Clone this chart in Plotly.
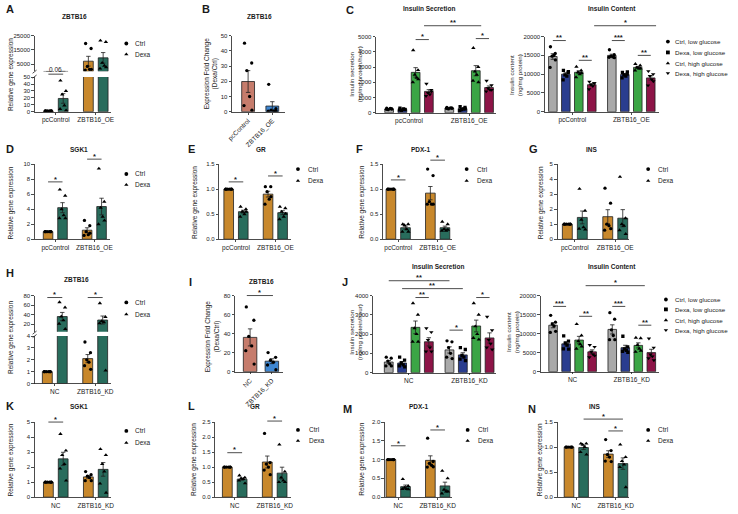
import numpy as np
import plotly.graph_objects as go

W, H = 738, 514
FONT = "Liberation Sans, Arial, Helvetica, sans-serif"
TXT = "#1a1a1a"
EDGE = "#1f1f1f"

C_CTRL = "#C8882C"
C_DEXA = "#286C5C"
C_GREY = "#A9A9A9"
C_NAVY = "#2A3D8F"
C_GREEN = "#3BA545"
C_MAROON = "#8D1447"
C_FC_A = "#C67C6C"
C_FC_B = "#3F87D2"

# ---------------- DATA ----------------
oe_groups = ["pcControl", "ZBTB16_OE"]
kd_groups = ["NC", "ZBTB16_KD"]
treat_labels = ["Ctrl", "Dexa"]
cond_labels = ["Ctrl, low glucose", "Dexa, low glucose", "Ctrl, high glucose", "Dexa, high glucose"]

# A: ZBTB16 (overexpression)
A_ctrl = [[1, 1, 1, 1, 1, 1], [19500, 16000, 3500, 1500, 1000, 1500]]
A_dexa = [[45, 30, 25, 9, 4, 2], [21500, 20500, 6000, 4000, 2000, 3000]]
# B: fold change
B_fold = [[45, 32, 27, 10, 4, 1], [18, 2, 1, 0.5, 0.3, 0.5]]
# C: insulin secretion
C_sec_ctrl_low = [[300, 250, 200, 280, 220, 250], [350, 300, 250, 320, 280, 300]]
C_sec_dexa_low = [[300, 220, 150, 250, 180, 200], [400, 350, 200, 250, 150, 250]]
C_sec_ctrl_high = [[4100, 2800, 2500, 2300, 2000, 2200], [4250, 3000, 2700, 2500, 2100, 2000]]
C_sec_dexa_high = [[1900, 1500, 1300, 1200, 1100, 1400], [2100, 1800, 1600, 1500, 1400, 1500]]
# C: insulin content
C_con_ctrl_low = [[17300, 15500, 14800, 15000, 11800, 13800], [16500, 15200, 14800, 14600, 14500, 14400]]
C_con_dexa_low = [[11000, 10500, 9800, 9500, 8500, 10700], [10500, 10000, 9800, 9500, 9000, 10600]]
C_con_ctrl_high = [[12000, 11000, 10500, 10000, 9200, 10300], [12700, 12300, 11800, 11500, 11000, 11500]]
C_con_dexa_high = [[8000, 7600, 7200, 6800, 6000, 7600], [10800, 10000, 9500, 8600, 7000, 8100]]
# D-G
D_ctrl = [[1, 1, 1, 1, 1, 1], [2.5, 1.8, 1.0, 0.6, 0.5, 0.8]]
D_dexa = [[6.6, 5.8, 4.0, 3.2, 2.8, 2.8], [9.4, 5.0, 4.2, 3.0, 2.0, 2.5]]
E_ctrl = [[1, 1, 1, 1, 1, 1], [1.05, 1.05, 0.95, 0.8, 0.7, 0.85]]
E_dexa = [[0.65, 0.6, 0.55, 0.5, 0.45, 0.55], [0.65, 0.62, 0.55, 0.45, 0.4, 0.51]]
F_ctrl = [[1, 1, 1, 1, 1, 1], [1.4, 1.27, 0.75, 0.7, 0.7, 0.7]]
F_dexa = [[0.3, 0.3, 0.28, 0.2, 0.15, 0.15], [0.35, 0.3, 0.2, 0.17, 0.17, 0.19]]
G_ctrl = [[1, 1, 1, 1, 1, 1], [3.4, 2.4, 1.0, 0.9, 0.6, 0.7]]
G_dexa = [[3.35, 1.9, 1.3, 0.8, 0.7, 0.65], [4.15, 1.4, 1.0, 0.9, 0.6, 0.35]]
# H: ZBTB16 (knockdown)
H_ctrl = [[1, 1, 1, 1, 1, 1], [3.5, 2.6, 2.0, 1.8, 1.5, 1.2]]
H_dexa = [[66, 55, 36, 28, 21, 10], [64, 35, 26, 24, 22, 1.1]]
# I: fold change
I_fold = [[68, 54, 37, 27, 22, 8], [20, 15, 12, 10, 7, 2]]
# J: insulin secretion
J_sec_ctrl_low = [[800, 750, 600, 450, 350, 350], [1650, 1600, 1300, 1000, 800, 730]]
J_sec_dexa_low = [[800, 650, 500, 400, 350, 300], [1300, 1200, 900, 800, 700, 620]]
J_sec_ctrl_high = [[3600, 3000, 2300, 2000, 1600, 1600], [3600, 3000, 2400, 2000, 1800, 1720]]
J_sec_dexa_high = [[2300, 2100, 1700, 1300, 1100, 1100], [2900, 2200, 1700, 1500, 1300, 1200]]
# J: insulin content
J_con_ctrl_low = [[14800, 13000, 12500, 12000, 10300, 10600], [15500, 13800, 11000, 9500, 8400, 8400]]
J_con_dexa_low = [[9400, 8000, 7500, 7000, 6000, 5900], [9300, 6500, 6000, 5600, 5300, 5100]]
J_con_ctrl_high = [[12500, 9500, 8000, 7200, 6000, 6600], [8900, 8800, 7000, 6000, 5200, 5500]]
J_con_dexa_high = [[7000, 6500, 5200, 4500, 3800, 4200], [8700, 6300, 4500, 4000, 3500, 3000]]
# K-N
K_ctrl = [[1, 1, 1, 1, 1, 1], [1.7, 1.5, 1.4, 1.3, 1.1, 1.1]]
K_dexa = [[4.2, 3.1, 2.8, 2.2, 1.9, 1.1], [3.2, 2.8, 2.2, 1.7, 0.9, 0.3]]
L_ctrl = [[1, 1, 1, 1, 1, 1], [2.12, 1.15, 1.1, 1.0, 0.9, 0.75]]
L_dexa = [[0.72, 0.65, 0.62, 0.6, 0.55, 0.46], [1.75, 0.85, 0.65, 0.55, 0.5, 0.5]]
M_ctrl = [[1, 1, 1, 1, 1, 1], [1.57, 0.95, 0.9, 0.85, 0.8, 0.81]]
M_dexa = [[0.48, 0.3, 0.25, 0.22, 0.22, 0.21], [0.7, 0.5, 0.2, 0.15, 0.1, 0.15]]
N_ctrl = [[1, 1, 1, 1, 1, 1], [1.15, 0.93, 0.85, 0.8, 0.72, 0.71]]
N_dexa = [[1.07, 1.07, 1.05, 1.0, 0.9, 0.85], [1.05, 0.8, 0.72, 0.65, 0.6, 0.2]]

# ---------------- helpers ----------------
fig = go.Figure()
axes_list = []
legend_pts = {"x": [], "y": [], "sym": []}
JIT = [-0.28, 0.28, -0.1, 0.12, -0.32, 0.3]


def add_axes(box, xr, yr, ytv, ytt, xlabels=None, show_x=True, tickangle=0):
    n = len(axes_list) + 1
    sx = "" if n == 1 else str(n)
    x0, x1, y0, y1 = box
    xa = dict(domain=[x0 / W, x1 / W], range=list(xr), anchor="y" + sx,
              showgrid=False, zeroline=False, fixedrange=True)
    if show_x:
        xa.update(showline=True, linecolor=EDGE, linewidth=0.8, ticks="outside", ticklen=2,
                  tickwidth=0.8, tickcolor=EDGE, tickvals=list(range(len(xlabels))),
                  ticktext=xlabels, tickangle=tickangle,
                  tickfont=dict(size=6.5, color=TXT, family=FONT))
    else:
        xa.update(visible=False)
    ya = dict(domain=[1 - y1 / H, 1 - y0 / H], range=list(yr), anchor="x" + sx,
              showgrid=False, zeroline=False, showline=True, linecolor=EDGE, linewidth=0.8,
              ticks="outside", ticklen=2.5, tickwidth=0.8, tickcolor=EDGE,
              tickvals=ytv, ticktext=ytt, tickfont=dict(size=6, color=TXT, family=FONT),
              fixedrange=True)
    fig.update_layout(**{"xaxis" + sx: xa, "yaxis" + sx: ya})
    info = dict(x="x" + sx, y="y" + sx, box=box, xr=xr, yr=yr)
    axes_list.append(info)
    return info


def to_px(ax, xv):
    x0, x1, _, _ = ax["box"]
    a, b = ax["xr"]
    return x0 + (xv - a) / (b - a) * (x1 - x0)


def draw_series(ax, xs, vals, color, symbol, width, msize=3.3):
    means = [float(np.mean(v)) for v in vals]
    sems = [float(np.std(v, ddof=1) / np.sqrt(len(v))) for v in vals]
    fig.add_trace(go.Bar(x=xs, y=means, width=width,
                         marker=dict(color=color, line=dict(color=EDGE, width=0.8)),
                         error_y=dict(type="data", array=sems, color=EDGE, thickness=0.8, width=2.2),
                         xaxis=ax["x"], yaxis=ax["y"], showlegend=False, hoverinfo="skip"))
    lo, hi = ax["yr"]
    px_, py_ = [], []
    for xc, v in zip(xs, vals):
        for k, val in enumerate(v):
            if lo <= val <= hi:
                px_.append(xc + JIT[k % len(JIT)] * width)
                py_.append(val)
    sz = msize + (0.6 if "triangle" in symbol else 0)
    fig.add_trace(go.Scatter(x=px_, y=py_, mode="markers",
                             marker=dict(symbol=symbol, size=sz, color="black", line=dict(width=0)),
                             xaxis=ax["x"], yaxis=ax["y"], showlegend=False, hoverinfo="skip"))


def add_text(x, y, text, size=6.5, bold=False, angle=0, xanchor="center", yanchor="middle"):
    if bold:
        text = "<b>" + text + "</b>"
    fig.add_annotation(x=x / W, y=1 - y / H, xref="paper", yref="paper", text=text,
                       showarrow=False, textangle=angle, xanchor=xanchor, yanchor=yanchor,
                       font=dict(family=FONT, size=size, color=TXT), borderpad=0)


def add_sig(ax, sigs):
    for xa, xb, ypx, text in sigs:
        pa, pb = to_px(ax, xa), to_px(ax, xb)
        fig.add_shape(type="line", xref="paper", yref="paper", x0=pa / W, x1=pb / W,
                      y0=1 - ypx / H, y1=1 - ypx / H, line=dict(color=EDGE, width=0.8))
        if "*" in text:
            add_text((pa + pb) / 2, ypx - 2.8, text, size=7.5, bold=True)
        else:
            add_text((pa + pb) / 2, ypx - 5, text, size=6.5)


def add_legend(mx, tx, ys, labels, symbols, size=6.5):
    for yy, lab, sym in zip(ys, labels, symbols):
        legend_pts["x"].append(mx)
        legend_pts["y"].append(yy)
        legend_pts["sym"].append(sym)
        add_text(tx, yy, lab, size=size, xanchor="left")


def add_break(x, ys):
    for yy in ys:
        fig.add_shape(type="line", xref="paper", yref="paper", x0=(x - 2) / W, x1=(x + 2) / W,
                      y0=1 - (yy + 1.6) / H, y1=1 - (yy - 1.6) / H, line=dict(color=EDGE, width=0.8))


def two_group(ax, ctrl, dexa, off=0.185, width=0.245):
    draw_series(ax, [0 - off, 1 - off], ctrl, C_CTRL, "circle", width)
    draw_series(ax, [0 + off, 1 + off], dexa, C_DEXA, "triangle-up", width)


def four_group(ax, series, width=0.145):
    offs = [-0.33, -0.11, 0.11, 0.33]
    cols = [C_GREY, C_NAVY, C_GREEN, C_MAROON]
    syms = ["circle", "square", "triangle-up", "triangle-down"]
    for vals, o, c, s in zip(series, offs, cols, syms):
        draw_series(ax, [0 + o, 1 + o], vals, c, s, width)


def fmt(vals, dec=0):
    return [f"{v:.{dec}f}" for v in vals]


TS = ["circle", "triangle-up"]
CS = ["circle", "square", "triangle-up", "triangle-down"]
SIG2 = (-0.185, 0.185)
SIG2b = (0.815, 1.185)

# ---------------- Panel A (broken axis) ----------------
axA = add_axes((30, 107, 75, 110), (-0.53, 1.37), (0, 50), [0, 10, 20, 30, 40, 50],
               fmt([0, 10, 20, 30, 40, 50]), xlabels=oe_groups)
axA2 = add_axes((30, 107, 33, 69), (-0.53, 1.37), (200, 25000), [5000, 15000, 25000],
                ["5000", "15000", "25000"], show_x=False)
two_group(axA, A_ctrl, A_dexa)
two_group(axA2, A_ctrl, A_dexa)
add_break(30, [69.5, 74.5])
add_sig(axA, [(SIG2[0], SIG2[1], 72, "0.06")])
add_text(5, 6, "A", 11, True)
add_text(70, 14, "ZBTB16", 6.5, True)
add_text(6, 72, "Relative gene expression", 6.5, angle=-90)
add_legend(123, 131, [41, 52], treat_labels, TS)

# ---------------- Panel B ----------------
axB = add_axes((230, 284, 33, 110), (-0.67, 1.53), (0, 50), [0, 10, 20, 30, 40, 50],
               fmt([0, 10, 20, 30, 40, 50]), xlabels=oe_groups, tickangle=-45)
draw_series(axB, [0, 1], B_fold, [C_FC_A, C_FC_B], "circle", 0.53)
add_text(204, 6, "B", 11, True)
add_text(258, 14, "ZBTB16", 6.5, True)
add_text(209, 71, "Expression Fold Change<br>(Dexa/Ctrl)", 6.5, angle=-90)

# ---------------- Panel C secretion ----------------
axC = add_axes((376, 498, 34, 111), (-0.55, 1.45), (0, 5000), [0, 1000, 2000, 3000, 4000, 5000],
               fmt([0, 1000, 2000, 3000, 4000, 5000]), xlabels=oe_groups)
four_group(axC, [C_sec_ctrl_low, C_sec_dexa_low, C_sec_ctrl_high, C_sec_dexa_high])
add_sig(axC, [(0.11, 0.33, 37, "*"), (1.11, 1.33, 36, "*"), (0.25, 1.2, 23, "**")])
add_text(350, 7, "C", 11, True)
add_text(430, 6, "Insulin Secretion", 6.5, True)
add_text(355, 72, "Insulin secretion<br>(ng/mg protein/hour)", 6.2, angle=-90)

# ---------------- Panel C content ----------------
axC2 = add_axes((547, 663, 34, 110), (-0.47, 1.47), (0, 20000), [0, 5000, 10000, 15000, 20000],
                fmt([0, 5000, 10000, 15000, 20000]), xlabels=oe_groups)
four_group(axC2, [C_con_ctrl_low, C_con_dexa_low, C_con_ctrl_high, C_con_dexa_high])
add_sig(axC2, [(-0.33, -0.11, 38, "**"), (0.11, 0.33, 58, "**"), (0.67, 0.89, 38, "***"),
               (1.11, 1.33, 53, "**"), (0.37, 1.42, 23, "*")])
add_text(615, 6, "Insulin Content", 6.5, True)
add_text(517, 73, "Insulin content<br>(ng/mg protein)", 6.2, angle=-90)
add_legend(672, 678, [39, 50, 61, 71], cond_labels, CS, size=6.2)

# ---------------- Row 2: D, E, F, G ----------------
row2 = [
    dict(lab="D", lp=(5, 148), title="SGK1", tp=(75, 148), box=(30, 106, 163, 239), xr=(-0.53, 1.39),
         yr=(0, 10), ytv=[0, 2, 4, 6, 8, 10], dec=0, ctrl=D_ctrl, dexa=D_dexa, yt=(6, 202),
         sig=[(SIG2[0], SIG2[1], 181, "*"), (SIG2b[0], SIG2b[1], 158, "*")], leg=(123, 131, [173, 184])),
    dict(lab="E", lp=(189, 148), title="GR", tp=(260, 148), box=(217, 290, 163, 239), xr=(-0.43, 1.4),
         yr=(0, 1.5), ytv=[0, 0.5, 1.0, 1.5], dec=1, ctrl=E_ctrl, dexa=E_dexa, yt=(192, 202),
         sig=[(SIG2[0], SIG2[1], 181, "*"), (SIG2b[0], SIG2b[1], 175, "*")], leg=(297, 306, [168, 180])),
    dict(lab="F", lp=(359, 148), title="PDX-1", tp=(422, 148), box=(383, 453, 163, 239), xr=(-0.39, 1.36),
         yr=(0, 1.5), ytv=[0, 0.5, 1.0, 1.5], dec=1, ctrl=F_ctrl, dexa=F_dexa, yt=(362, 202),
         sig=[(SIG2[0], SIG2[1], 179, "*"), (SIG2b[0], SIG2b[1], 159, "*")], leg=(468, 477, [168, 180])),
    dict(lab="G", lp=(536, 148), title="INS", tp=(595, 148), box=(560, 633, 163, 239), xr=(-0.43, 1.35),
         yr=(0, 5), ytv=[0, 1, 2, 3, 4, 5], dec=0, ctrl=G_ctrl, dexa=G_dexa, yt=(543, 202),
         sig=[], leg=(652, 661, [168, 180])),
]
row4 = [
    dict(lab="K", lp=(5, 408), title="SGK1", tp=(75, 408), box=(30, 107, 424, 500), xr=(-0.53, 1.37),
         yr=(0, 5), ytv=[0, 1, 2, 3, 4, 5], dec=0, ctrl=K_ctrl, dexa=K_dexa, yt=(6, 462),
         sig=[(SIG2[0], SIG2[1], 424, "*")], leg=(123, 131, [433, 445])),
    dict(lab="L", lp=(189, 408), title="GR", tp=(253, 408), box=(213, 290, 424, 500), xr=(-0.49, 1.41),
         yr=(0, 2.5), ytv=[0, 0.5, 1.0, 1.5, 2.0, 2.5], dec=1, ctrl=L_ctrl, dexa=L_dexa, yt=(191, 462),
         sig=[(SIG2[0], SIG2[1], 455, "*"), (SIG2b[0], SIG2b[1], 423, "*")], leg=(297, 307, [432, 443])),
    dict(lab="M", lp=(347, 411), title="PDX-1", tp=(420, 408), box=(385, 453, 424, 500), xr=(-0.34, 1.36),
         yr=(0, 2.0), ytv=[0, 0.5, 1.0, 1.5, 2.0], dec=1, ctrl=M_ctrl, dexa=M_dexa, yt=(362, 462),
         sig=[(SIG2[0], SIG2[1], 448, "*"), (SIG2b[0], SIG2b[1], 432, "*")], leg=(469, 478, [432, 443])),
    dict(lab="N", lp=(534, 411), title="INS", tp=(598, 408), box=(560, 633, 424, 500), xr=(-0.48, 1.35),
         yr=(0, 1.5), ytv=[0, 0.5, 1.0, 1.5], dec=1, ctrl=N_ctrl, dexa=N_dexa, yt=(542, 462),
         sig=[(0.185, 1.185, 421, "*"), (SIG2b[0], SIG2b[1], 433, "*")], leg=(652, 661, [432, 443])),
]
for p, groups in [(q, oe_groups) for q in row2] + [(q, kd_groups) for q in row4]:
    ax = add_axes(p["box"], p["xr"], p["yr"], p["ytv"], fmt(p["ytv"], p["dec"]), xlabels=groups)
    two_group(ax, p["ctrl"], p["dexa"])
    add_sig(ax, p["sig"])
    add_text(p["lp"][0], p["lp"][1], p["lab"], 11, True)
    add_text(p["tp"][0], p["tp"][1], p["title"], 6.5, True)
    add_text(p["yt"][0], p["yt"][1], "Relative gene expression", 6.5, angle=-90)
    add_legend(p["leg"][0], p["leg"][1], p["leg"][2], treat_labels, TS)

# ---------------- Panel H (broken axis) ----------------
axH = add_axes((30, 107, 337, 385), (-0.5, 1.38), (0, 4), [0, 1, 2, 3, 4], fmt([0, 1, 2, 3, 4]),
               xlabels=kd_groups)
axH2 = add_axes((30, 107, 296, 332.7), (-0.5, 1.38), (4, 80), [20, 40, 60, 80],
                fmt([20, 40, 60, 80]), show_x=False)
two_group(axH, H_ctrl, H_dexa)
two_group(axH2, H_ctrl, H_dexa)
add_break(30, [333.5, 337])
add_sig(axH, [(SIG2[0], SIG2[1], 298, "*"), (SIG2b[0], SIG2b[1], 298, "*")])
add_text(5, 273, "H", 11, True)
add_text(72, 280, "ZBTB16", 6.5, True)
add_text(6, 338, "Relative gene expression", 6.5, angle=-90)
add_legend(123, 131, [303, 315], treat_labels, TS)

# ---------------- Panel I ----------------
axI = add_axes((233, 282, 296, 373), (-0.7, 1.52), (0, 80), [0, 20, 40, 60, 80],
               fmt([0, 20, 40, 60, 80]), xlabels=kd_groups, tickangle=-45)
draw_series(axI, [0, 1], I_fold, [C_FC_A, C_FC_B], "circle", 0.62)
add_sig(axI, [(-0.15, 1.05, 296, "*")])
add_text(188, 282, "I", 11, True)
add_text(260, 282, "ZBTB16", 6.5, True)
add_text(210, 337, "Expression Fold Change<br>(Dexa/Ctrl)", 6.5, angle=-90)

# ---------------- Panel J secretion ----------------
axJ = add_axes((373, 498, 296, 374), (-0.59, 1.44), (0, 4000), [0, 1000, 2000, 3000, 4000],
               fmt([0, 1000, 2000, 3000, 4000]), xlabels=kd_groups)
four_group(axJ, [J_sec_ctrl_low, J_sec_dexa_low, J_sec_ctrl_high, J_sec_dexa_high])
add_sig(axJ, [(-0.33, 0.67, 281, "**"), (-0.11, 0.89, 289, "**"), (0.11, 0.33, 298, "**"),
              (1.11, 1.33, 298, "*"), (0.67, 0.89, 331, "*")])
add_text(345, 282, "J", 11, True)
add_text(439, 267, "Insulin Secretion", 6.5, True)
add_text(355, 333, "Insulin secretion<br>(ng/mg protein/hour)", 6.2, angle=-90)

# ---------------- Panel J content ----------------
axJ2 = add_axes((543, 663, 296, 373), (-0.54, 1.46), (0, 20000), [0, 5000, 10000, 15000, 20000],
                fmt([0, 5000, 10000, 15000, 20000]), xlabels=kd_groups)
four_group(axJ2, [J_con_ctrl_low, J_con_dexa_low, J_con_ctrl_high, J_con_dexa_high])
add_sig(axJ2, [(-0.33, -0.11, 307, "***"), (0.11, 0.33, 317, "**"), (0.67, 0.89, 307, "***"),
               (1.11, 1.33, 326, "**"), (0.22, 1.22, 286, "*")])
add_text(615, 267, "Insulin Content", 6.5, True)
add_text(514, 333, "Insulin content<br>(ng/mg protein)", 6.2, angle=-90)
add_legend(670, 678, [300, 310, 321, 331], cond_labels, CS, size=6.2)

# ---------------- overlay axes for legend markers ----------------
n = len(axes_list) + 1
fig.update_layout(**{
    f"xaxis{n}": dict(domain=[0, 1], range=[0, W], visible=False, anchor=f"y{n}", fixedrange=True),
    f"yaxis{n}": dict(domain=[0, 1], range=[H, 0], visible=False, anchor=f"x{n}", fixedrange=True),
})
fig.add_trace(go.Scatter(x=legend_pts["x"], y=legend_pts["y"], mode="markers",
                         marker=dict(symbol=legend_pts["sym"], size=3.8, color="black"),
                         xaxis=f"x{n}", yaxis=f"y{n}", showlegend=False, hoverinfo="skip",
                         cliponaxis=False))

fig.update_layout(width=W, height=H, margin=dict(l=0, r=0, t=0, b=0), autosize=False,
                  paper_bgcolor="white", plot_bgcolor="rgba(0,0,0,0)", barmode="overlay",
                  showlegend=False, hovermode=False, font=dict(family=FONT, color=TXT))

fig.write_html("out.html",
               config={"displayModeBar": False, "staticPlot": True},
               post_script="document.body.style.margin='0';document.body.style.padding='0';"
                           "document.documentElement.style.overflow='hidden';")
